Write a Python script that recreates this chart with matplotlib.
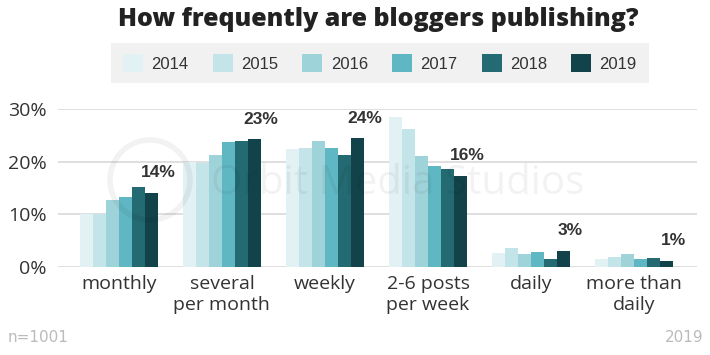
import matplotlib.pyplot as plt
from matplotlib.patches import Ellipse
import numpy as np

categories = ["monthly", "several\nper month", "weekly", "2-6 posts\nper week", "daily", "more than\ndaily"]
years = ["2014", "2015", "2016", "2017", "2018", "2019"]
values = {
    "2014": [10.0, 20.0, 22.3, 28.5, 2.7, 1.5],
    "2015": [10.0, 19.8, 22.5, 26.2, 3.6, 1.9],
    "2016": [12.7, 21.3, 24.0, 21.1, 2.4, 2.4],
    "2017": [13.2, 23.7, 22.5, 19.2, 2.8, 1.5],
    "2018": [15.2, 24.0, 21.3, 18.6, 1.5, 1.7],
    "2019": [14.1, 24.2, 24.4, 17.3, 3.0, 1.1],
}
labels_2019 = ["14%", "23%", "24%", "16%", "3%", "1%"]
colors = ["#e1f1f4", "#c3e4e9", "#9fd3da", "#5fb7c3", "#236a72", "#12434b"]

fig = plt.figure(figsize=(7.1, 3.55), dpi=100)
ax = fig.add_axes([0.0817, 0.2487, 0.9, 0.4443])

x = np.arange(len(categories))
w = 0.126
for i, yr in enumerate(years):
    ax.bar(x + (i - 2.5) * w, values[yr], width=w, color=colors[i], label=yr, zorder=3)

for xi, v, lab in zip(x, values["2019"], labels_2019):
    ax.annotate(lab, (xi + 2.5 * w, v), xytext=(5, 9), textcoords="offset points",
                ha="center", va="bottom", fontsize=12.5, fontweight="bold",
                family="Liberation Sans", color="#333333", zorder=4)

ax.set_xlim(-0.59, 5.61)
ax.set_ylim(0, 30)
ax.set_yticks([0, 10, 20, 30])
ax.set_yticklabels(["0%", "10%", "20%", "30%"])
ax.set_xticks(x)
ax.set_xticklabels(categories, linespacing=1.2)
ax.tick_params(axis="both", length=0, labelsize=14, colors="#333333")
ax.tick_params(axis="x", pad=6)
ax.tick_params(axis="y", pad=8)
for lab in ax.get_xticklabels() + ax.get_yticklabels():
    lab.set_family("Open Sans")
ax.grid(axis="y", color="#d9d9d9", linewidth=1.2, zorder=0)
for s in ax.spines.values():
    s.set_visible(False)

# faint watermark
fig.patches.append(Ellipse((150 / 710, 1 - 180 / 355), 80 / 710, 80 / 355,
                           transform=fig.transFigure, fill=False, edgecolor="#000000",
                           alpha=0.05, linewidth=4, zorder=5))
fig.text(398 / 710, 1 - 194 / 355, "Orbit Media Studios", ha="center", va="baseline",
         fontsize=29, family="Open Sans", color="#000000", alpha=0.05, zorder=5)

fig.text(378 / 710, 1 - 19 / 355, "How frequently are bloggers publishing?",
         ha="center", va="center", fontsize=18, fontweight="black",
         family="Open Sans", color="#222222")

leg = fig.legend(loc="center", bbox_to_anchor=(380 / 710, 1 - 63 / 355), ncol=6,
                 frameon=True, fancybox=False, facecolor="#f1f1f1", edgecolor="none",
                 framealpha=1, handlelength=1.2, handleheight=1.2, handletextpad=0.5,
                 columnspacing=1.45, borderpad=0.7,
                 prop={"family": "Liberation Sans", "size": 12})
for t in leg.get_texts():
    t.set_color("#333333")

fig.text(8 / 710, 1 - 338 / 355, "n=1001", ha="left", va="center", fontsize=11,
         family="DejaVu Sans", color="#bbbbbb")
fig.text(703 / 710, 1 - 338 / 355, "2019", ha="right", va="center", fontsize=11,
         family="DejaVu Sans", color="#bbbbbb")

fig.savefig("out.png", dpi=100)
